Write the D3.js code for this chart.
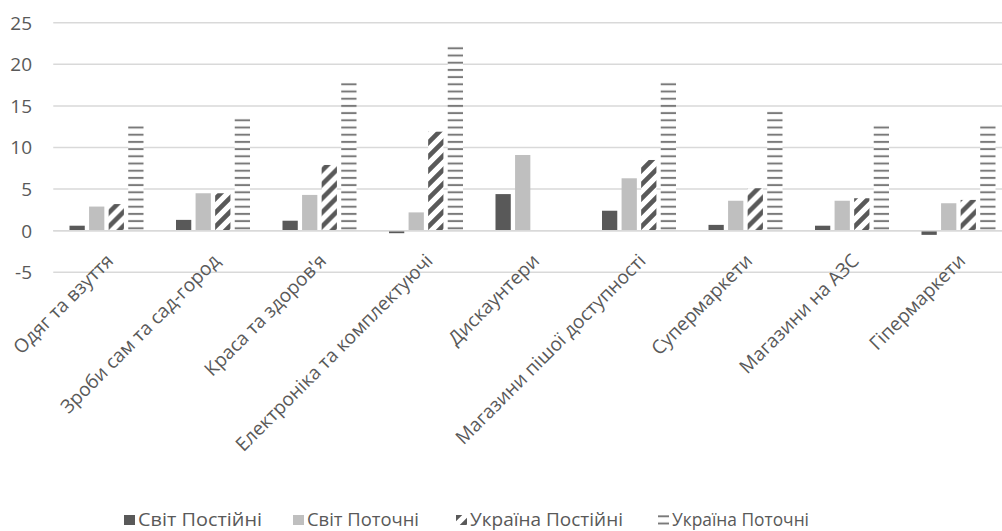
<!DOCTYPE html>
<html>
<head>
<meta charset="utf-8">
<script src="https://cdn.jsdelivr.net/npm/d3@7"></script>
<style>
  html, body { margin: 0; padding: 0; background: #fff; }
  svg { display: block; font-family: "Open Sans", "Noto Sans", sans-serif; }
</style>
</head>
<body>
<svg id="chart" width="1002" height="531"></svg>
<script>
const categories = [
  "Одяг та взуття",
  "Зроби сам та сад-город",
  "Краса та здоров'я",
  "Електроніка та комплектуючі",
  "Дискаунтери",
  "Магазини пішої доступності",
  "Супермаркети",
  "Магазини на АЗС",
  "Гіпермаркети"
];
const seriesNames = ["Світ Постійні", "Світ Поточні", "Україна Постійні", "Україна Поточні"];
const svitPostiyni   = [0.6, 1.3, 1.2, -0.3, 4.4, 2.4, 0.7, 0.6, -0.5];
const svitPotochni   = [2.9, 4.5, 4.3, 2.2, 9.1, 6.3, 3.6, 3.6, 3.3];
const ukrainaPostiyni = [3.2, 4.5, 7.9, 11.9, null, 8.5, 5.1, 3.9, 3.7];
const ukrainaPotochni = [12.6, 13.8, 17.8, 22.3, null, 17.9, 14.6, 12.9, 12.9];
const yTicks = [-5, 0, 5, 10, 15, 20, 25];

const seriesValues = [svitPostiyni, svitPotochni, ukrainaPostiyni, ukrainaPotochni];

const svg = d3.select("#chart");
const W = 1002;
const plotLeft = 53.25, bandW = 106.5;

// patterns
const defs = svg.append("defs");
const diag = defs.append("pattern").attr("id", "diag")
  .attr("patternUnits", "userSpaceOnUse").attr("width", 14).attr("height", 14);
diag.append("rect").attr("width", 14).attr("height", 14).attr("fill", "#fff");
diag.append("path").attr("d", "M-2,2 L2,-2 M0,14 L14,0 M12,16 L16,12")
  .attr("stroke", "#595959").attr("stroke-width", 4.6);

const horiz = defs.append("pattern").attr("id", "horiz")
  .attr("patternUnits", "userSpaceOnUse").attr("width", 20).attr("height", 7.2)
  .attr("y", 1.5);
horiz.append("rect").attr("width", 20).attr("height", 7.2).attr("fill", "#fff");
horiz.append("rect").attr("y", 2.6).attr("width", 20).attr("height", 2).attr("fill", "#7a7a7a");

const fills = ["#595959", "#bfbfbf", "url(#diag)", "url(#horiz)"];

const x0 = d3.scaleBand().domain(categories).range([plotLeft, plotLeft + bandW * categories.length]).padding(0);
const groupW = 74;
const x1 = d3.scaleBand().domain(d3.range(4)).range([0, groupW]).paddingInner(0.22).paddingOuter(0);
const y = d3.scaleLinear().domain([-5, 25]).range([272.3, 22.7]);

// gridlines
svg.append("g").selectAll("line").data(yTicks).join("line")
  .attr("x1", plotLeft).attr("x2", W)
  .attr("y1", d => y(d)).attr("y2", d => y(d))
  .attr("stroke", "#d9d9d9").attr("stroke-width", 1.5);

// y tick labels
svg.append("g").selectAll("text").data(yTicks).join("text")
  .attr("x", 32).attr("y", d => y(d))
  .attr("dy", "0.36em")
  .attr("text-anchor", "end")
  .attr("font-size", 19).attr("fill", "#595959")
  .text(d => d);

// bars
const groups = svg.append("g").selectAll("g").data(categories).join("g")
  .attr("transform", d => `translate(${x0(d) + (bandW - groupW) / 2},0)`);

groups.selectAll("rect")
  .data((c, i) => seriesValues.map((vals, s) => ({ s, v: vals[i] })).filter(d => d.v !== null))
  .join("rect")
  .attr("x", d => x1(d.s))
  .attr("width", x1.bandwidth())
  .attr("y", d => y(Math.max(0, d.v)))
  .attr("height", d => Math.abs(y(d.v) - y(0)))
  .attr("fill", d => fills[d.s]);

// zero line over bars
svg.append("line").attr("x1", plotLeft).attr("x2", W)
  .attr("y1", y(0)).attr("y2", y(0))
  .attr("stroke", "#d9d9d9").attr("stroke-width", 1.5);

// category labels
svg.append("g").selectAll("text").data(categories).join("text")
  .attr("transform", d => `translate(${x0(d) + bandW / 2 + 8},262) rotate(-45)`)
  .attr("text-anchor", "end")
  .attr("font-size", 19).attr("fill", "#595959")
  .text(d => d);

// legend
const legendX = [124, 293, 456, 658];
const legendTextLen = [124, 112, 153, 137];
const lg = svg.append("g").selectAll("g").data(seriesNames).join("g")
  .attr("transform", (d, i) => `translate(${legendX[i]},0)`);
lg.append("rect").attr("x", 0).attr("y", 515).attr("width", 11).attr("height", 10)
  .attr("fill", (d, i) => fills[i]);
lg.append("text").attr("x", 14).attr("y", 526)
  .attr("font-size", 18).attr("fill", "#595959")
  .attr("textLength", (d, i) => legendTextLen[i])
  .attr("lengthAdjust", "spacingAndGlyphs")
  .text(d => d);
</script>
</body>
</html>
